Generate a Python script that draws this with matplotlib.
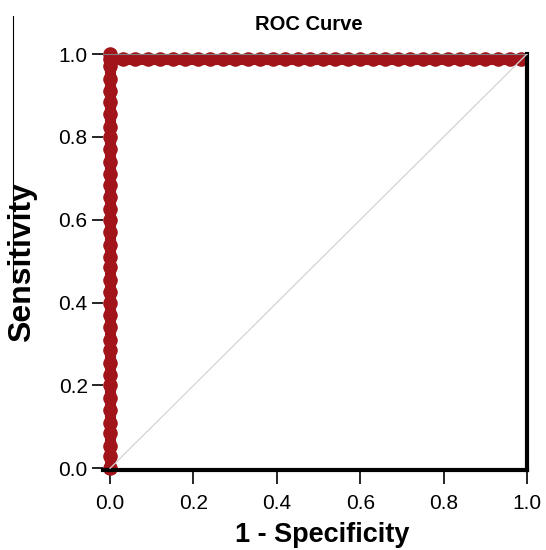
import matplotlib.pyplot as plt
from matplotlib.lines import Line2D

# ROC points: a vertical run at fpr = 0, then a flat run near tpr = 1
fpr_left = [0.0] * 36
tpr_left = [0.0, 0.03, 0.055, 0.085, 0.11, 0.14, 0.17, 0.2, 0.225, 0.255,
            0.285, 0.31, 0.34, 0.37, 0.4, 0.425, 0.455, 0.485, 0.51, 0.54,
            0.57, 0.6, 0.625, 0.655, 0.685, 0.71, 0.74, 0.77, 0.8, 0.825,
            0.855, 0.885, 0.91, 0.94, 0.97, 1.0]
fpr_top = [0.0, 0.03, 0.06, 0.09, 0.12, 0.15, 0.18, 0.21, 0.24, 0.27,
           0.3, 0.33, 0.36, 0.39, 0.42, 0.45, 0.48, 0.51, 0.54, 0.57,
           0.6, 0.63, 0.66, 0.69, 0.72, 0.75, 0.78, 0.81, 0.84, 0.87,
           0.9, 0.93, 0.96, 0.985]
tpr_top = [0.988] * 34

ticks = [0.0, 0.2, 0.4, 0.6, 0.8, 1.0]
tick_labels = ['0.0', '0.2', '0.4', '0.6', '0.8', '1.0']

red = '#a0141a'

plt.rcParams['font.family'] = ['Liberation Sans', 'DejaVu Sans']

fig = plt.figure(figsize=(5.46, 5.5), dpi=100)
ax = fig.add_axes([103 / 546, 80 / 550, 424 / 546, 416 / 550])

# chance diagonal
ax.plot([0, 1], [0, 1], color='#d4d4d4', lw=0.9, zorder=4)

ax.plot(fpr_left + fpr_top, tpr_left + tpr_top, '-o', color=red, lw=8,
        ms=10.5, mfc=red, mec=red, mew=0, zorder=2, clip_on=False)

ax.set_xlim(-0.017, 1.0)
ax.set_ylim(-0.004, 1.0)

ax.spines['left'].set_visible(False)
ax.spines['top'].set_color('#808080')
ax.spines['top'].set_linewidth(0.8)
ax.spines['top'].set_zorder(3)
ax.spines['right'].set_linewidth(3)
ax.spines['bottom'].set_linewidth(3)
ax.spines['right'].set_zorder(3)
ax.spines['bottom'].set_zorder(3)

ax.set_xticks(ticks)
ax.set_xticklabels(tick_labels)
ax.set_yticks(ticks)
ax.set_yticklabels(tick_labels)
ax.tick_params(axis='x', length=10, width=1.2, pad=7, labelsize=15)
ax.tick_params(axis='y', length=8, width=1.2, pad=3, labelsize=15)

ax.set_xlabel('1 - Specificity', fontsize=19.5, fontweight='bold')
ax.xaxis.set_label_coords(0.516, -0.126)
ax.set_ylabel('Sensitivity', fontsize=23, fontweight='bold')
ax.yaxis.set_label_coords(-0.156, 0.5)

fig.text(309 / 546, 1 - 24 / 550, 'ROC Curve', ha='center', va='center',
         fontsize=14.5, fontweight='bold')

# stray vertical rule at the far left
fig.add_artist(Line2D([13 / 546, 13 / 546], [1 - 16 / 550, 1 - 282 / 550],
                      color='black', lw=0.8))

fig.savefig('out.png', dpi=100)
